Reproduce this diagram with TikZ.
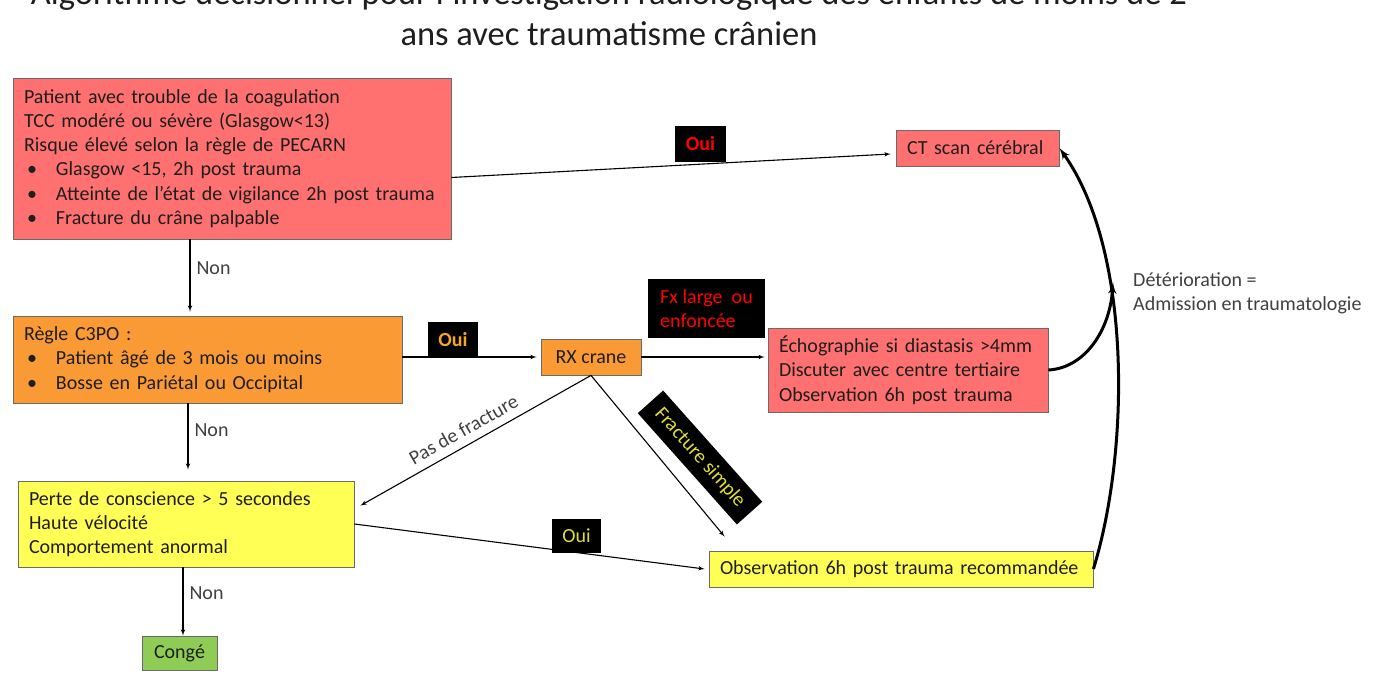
\documentclass[tikz,border=0pt]{standalone}
\usepackage{fontspec}
\setmainfont{Carlito}
\usepackage{tikz}
\usetikzlibrary{arrows}
\definecolor{redfill}{HTML}{FF7070}
\definecolor{orangefill}{HTML}{FA9A35}
\definecolor{yellowfill}{HTML}{FFFF55}
\definecolor{greenfill}{HTML}{8FCC55}
\definecolor{boxgray}{HTML}{6A6A6A}
\definecolor{textdark}{HTML}{1E1E1E}
\definecolor{labgray}{HTML}{404040}
\definecolor{ouiorange}{HTML}{F5A623}
\definecolor{simplecol}{HTML}{E0E030}
\tikzstyle{line} = [draw, line width=1.1pt, -latex']
\tikzstyle{thickline} = [draw, line width=3pt, -latex']
\tikzstyle{block} = [draw=boxgray, line width=0.8pt, inner xsep=11pt, inner ysep=0pt, align=left, text=textdark]
\tikzstyle{tag} = [fill=black, inner sep=0pt, align=center]
\newcommand{\corps}{\fontsize{20}{24.3}\selectfont}
\newcommand{\titre}{\fontsize{34.5}{41}\selectfont}
\newcommand{\puce}[1]{\hspace*{3pt}\makebox[29pt][l]{\textbullet}#1}

\begin{document}
\begin{tikzpicture}[x=1pt,y=-1pt,font=\corps]
		\useasboundingbox (0,0) rectangle (1400,700);
		\fill[white] (0,0) rectangle (1400,700);
		\clip (0,0) rectangle (1400,700);
		\node[anchor=base, font=\titre, text=textdark] (titrea) at (609,5) {Algorithme décisionnel pour l’investigation radiologique des enfants de moins de 2};
		\node[anchor=base, font=\titre, text=textdark] (titreb) at (609,46) {ans avec traumatisme crânien};
		\node[block, fill=redfill, text width=416pt, minimum height=161pt] (risk) at (232,158.5) {Patient avec trouble de la coagulation\\TCC modéré ou sévère (Glasgow<13)\\Risque élevé selon la règle de PECARN\\\puce{Glasgow <15, 2h post trauma}\\\puce{Atteinte de l’état de vigilance 2h post trauma}\\\puce{Fracture du crâne palpable}};
		\node[block, fill=redfill, text width=141pt, minimum height=36pt] (ct) at (977.5,148) {CT scan cérébral};
		\node[block, fill=orangefill, text width=367pt, minimum height=87pt] (rule) at (207.5,359.5) {Règle C3PO :\\\puce{Patient âgé de 3 mois ou moins}\\\puce{Bosse en Pariétal ou Occipital}};
		\node[block, fill=orangefill, align=center, inner xsep=0pt, minimum width=100pt, minimum height=36pt] (rx) at (591,357) {RX crane};
		\node[block, fill=redfill, text width=258pt, minimum height=84pt] (echo) at (908,370) {Échographie si diastasis >4mm\\Discuter avec centre tertiaire\\Observation 6h post trauma};
		\node[block, fill=yellowfill, text width=314pt, minimum height=86pt] (perte) at (186,524) {Perte de conscience > 5 secondes\\Haute vélocité\\Comportement anormal};
		\node[block, fill=yellowfill, text width=362pt, minimum height=36pt] (obs) at (901,569) {Observation 6h post trauma recommandée};
		\node[block, fill=greenfill, align=center, inner xsep=0pt, minimum width=75pt, minimum height=34pt] (conge) at (179.5,653) {Congé};
		\node[tag, minimum width=51pt, minimum height=36pt, text=red, font=\corps\bfseries] (ouia) at (700.5,144) {Oui};
		\node[tag, minimum width=50pt, minimum height=35pt, text=ouiorange, font=\corps\bfseries] (ouib) at (453,340) {Oui};
		\node[tag, minimum width=49pt, minimum height=34pt, text=simplecol] (ouic) at (576.5,536) {Oui};
		\node[tag, align=left, minimum width=117pt, minimum height=59pt, text=red] (fxtag) at (706.5,308.5) {Fx large~ ou\\enfoncée};
		\node[tag, rotate=-48.3, minimum width=149pt, minimum height=34pt, text=simplecol] (simple) at (700,457.5) {Fracture simple};
		\coordinate (deter) at (1113,282);
		\node[anchor=west, align=left, inner sep=0pt, text=labgray] (detertxt) at (1133,293.5) {Détérioration =\\Admission en traumatologie};
		\draw[line] ([yshift=-19pt]risk.east) -- ([xshift=-5pt,yshift=-6pt]ct.west);
		\draw[line] ([xshift=-42pt]risk.south) -- node[pos=0.4, right=4pt, inner sep=2pt, text=labgray] (nona) {Non} ([xshift=-17.5pt,yshift=4pt]rule.north);
		\draw[line] ([xshift=-19.5pt]rule.south) -- node[pos=0.4, right=4pt, inner sep=2pt, text=labgray] (nonb) {Non} ([xshift=2pt,yshift=11pt]perte.north);
		\draw[line] ([xshift=-3pt]perte.south) -- node[pos=0.38, right=4pt, inner sep=2pt, text=labgray] (nonc) {Non} ([xshift=3.5pt]conge.north);
		\draw[line] (rule.east |- rx.west) -- ([xshift=-4pt]rx.west);
		\draw[line, shorten >=3pt] (rx.east) -- (echo.west |- rx.east);
		\draw[line] (rx.south) -- node[sloped, above, pos=0.52, inner sep=8pt, text=labgray] (pasfx) {Pas de fracture} ([xshift=6pt,yshift=-25pt]perte.north east);
		\draw[line] (rx.south) -- ([xshift=16pt,yshift=14pt]obs.north west);
		\draw[line] (perte.east) -- ([xshift=-4pt]obs.west);
		\draw[thickline] (obs.east) .. controls (1130,450) and (1132,250) .. (ct.east);
		\draw[thickline] (echo.east) .. controls (1085,368) and (1110,330) .. (deter);
	\end{tikzpicture}
\end{document}
